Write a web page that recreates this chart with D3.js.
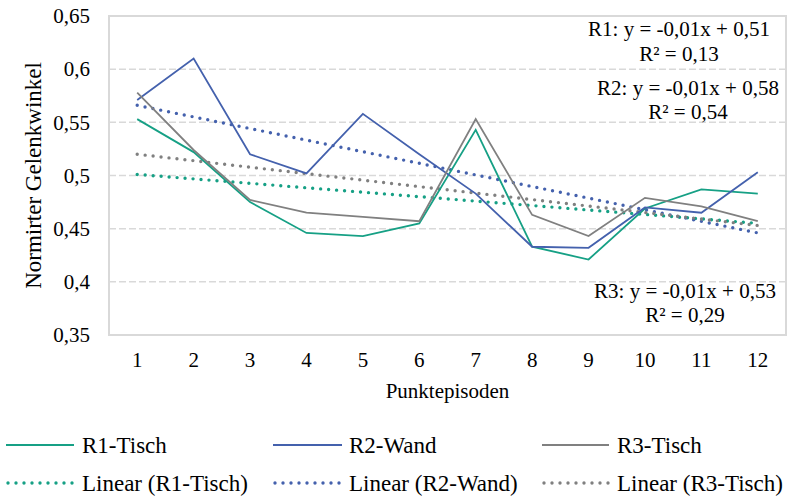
<!DOCTYPE html>
<html>
<head>
<meta charset="utf-8">
<script src="https://cdn.jsdelivr.net/npm/d3@7/dist/d3.min.js"></script>
<style>
  html, body { margin: 0; padding: 0; background: #fff; }
  svg { display: block; }
  text { font-family: "Liberation Serif", "LiberationSerif", "Tinos", "Times New Roman", Times, "DejaVu Serif", serif !important; fill: #000; }
</style>
</head>
<body>
<svg id="chart" width="795" height="497"></svg>
<script>
// ---- data ----
const categories = ["1","2","3","4","5","6","7","8","9","10","11","12"];
const seriesNames = ["R1-Tisch", "R2-Wand", "R3-Tisch"];
const r1Values = [0.553, 0.522, 0.475, 0.446, 0.443, 0.455, 0.543, 0.433, 0.421, 0.469, 0.487, 0.483];
const r2Values = [0.571, 0.610, 0.520, 0.502, 0.558, 0.520, 0.483, 0.433, 0.432, 0.470, 0.465, 0.503];
const r3Values = [0.578, 0.524, 0.477, 0.465, 0.461, 0.457, 0.553, 0.463, 0.443, 0.479, 0.471, 0.457];
// linear trend lines: value at first and last category
const trendStart = [0.501, 0.566, 0.520];
const trendEnd   = [0.455, 0.446, 0.453];
const yTicks = [0.35, 0.40, 0.45, 0.50, 0.55, 0.60, 0.65];
const yTickLabels = ["0,35", "0,4", "0,45", "0,5", "0,55", "0,6", "0,65"];
const trendLabels = [
  ["R1: y = -0,01x + 0,51", "R² = 0,13"],
  ["R2: y = -0,01x + 0,58", "R² = 0,54"],
  ["R3: y = -0,01x + 0,53", "R² = 0,29"]
];
const xTitle = "Punktepisoden";
const yTitle = "Normirter Gelenkwinkel";
const colors = ["#16a085", "#4461ad", "#808080"];

// ---- layout ----
const svg = d3.select("#chart");
const plot = { left: 109, right: 786, top: 16, bottom: 335 };

const x = d3.scaleBand().domain(categories).range([plot.left, plot.right]).padding(0);
const cx = c => x(c) + x.bandwidth() / 2;
const y = d3.scaleLinear().domain([0.35, 0.65]).range([plot.bottom, plot.top]);

svg.append("rect").attr("width", 795).attr("height", 497).attr("fill", "#fff");

// gridlines
svg.append("g").selectAll("line")
  .data(yTicks.filter(v => v > 0.35 && v < 0.65))
  .join("line")
  .attr("x1", plot.left).attr("x2", plot.right)
  .attr("y1", d => y(d)).attr("y2", d => y(d))
  .attr("stroke", "#d9d9d9").attr("stroke-width", 1.5)
  .attr("stroke-dasharray", "7,3");

// plot border
svg.append("rect")
  .attr("x", plot.left).attr("y", plot.top)
  .attr("width", plot.right - plot.left).attr("height", plot.bottom - plot.top)
  .attr("fill", "none").attr("stroke", "#d9d9d9").attr("stroke-width", 2);

// y axis
const yAxis = d3.axisLeft(y).tickValues(yTicks)
  .tickFormat((d, i) => yTickLabels[i]).tickSize(0).tickPadding(19);
const gy = svg.append("g").attr("transform", `translate(${plot.left},0)`).call(yAxis);
gy.select(".domain").remove();
gy.attr("font-family", null);
gy.selectAll("text").style("font-size", "21px").attr("fill", "#000");

// x axis
const xAxis = d3.axisBottom(x).tickSize(0).tickPadding(17);
const gx = svg.append("g").attr("transform", `translate(0,${plot.bottom})`).call(xAxis);
gx.select(".domain").remove();
gx.attr("font-family", null);
gx.selectAll("text").style("font-size", "21px").attr("fill", "#000");

// axis titles
svg.append("text").attr("x", (plot.left + plot.right) / 2).attr("y", 398)
  .attr("text-anchor", "middle").style("font-size", "21px").text(xTitle);
svg.append("text").attr("transform", `translate(41,${(plot.top + plot.bottom) / 2}) rotate(-90)`)
  .attr("text-anchor", "middle").style("font-size", "23px").text(yTitle);

// data lines
const allSeries = [r1Values, r2Values, r3Values];
const line = d3.line().x((d, i) => cx(categories[i])).y(d => y(d));
const trendLine = d3.line().x(d => cx(d[0])).y(d => y(d[1]));

// trends drawn first (below)
allSeries.forEach((vals, k) => {
  svg.append("path")
    .datum([[categories[0], trendStart[k]], [categories[categories.length - 1], trendEnd[k]]])
    .attr("d", trendLine)
    .attr("fill", "none").attr("stroke", colors[k]).attr("stroke-width", 3.4)
    .attr("stroke-linecap", "round").attr("stroke-dasharray", "0,8");
});
allSeries.forEach((vals, k) => {
  svg.append("path").datum(vals).attr("d", line)
    .attr("fill", "none").attr("stroke", colors[k]).attr("stroke-width", 1.8)
    .attr("stroke-linejoin", "miter");
});

// trend equation labels
const labelPos = [[679, 36, 61], [688, 95, 119], [685, 298, 322]];
trendLabels.forEach((lbl, k) => {
  const [lx, y1, y2] = labelPos[k];
  svg.append("text").attr("x", lx).attr("y", y1).attr("text-anchor", "middle")
    .style("font-size", "21px").text(lbl[0]);
  svg.append("text").attr("x", lx).attr("y", y2).attr("text-anchor", "middle")
    .style("font-size", "21px").text(lbl[1]);
});

// legend
const legCols = [[6, 74, 82], [273, 342, 349], [542, 609, 617]];
const legRows = [445, 483];
seriesNames.forEach((name, k) => {
  const [x1, x2, tx] = legCols[k];
  svg.append("line").attr("x1", x1).attr("x2", x2).attr("y1", legRows[0]).attr("y2", legRows[0])
    .attr("stroke", colors[k]).attr("stroke-width", 2);
  svg.append("text").attr("x", tx).attr("y", legRows[0] + 8).style("font-size", "23px").text(name);
  svg.append("line").attr("x1", x1 + 2).attr("x2", x2).attr("y1", legRows[1]).attr("y2", legRows[1])
    .attr("stroke", colors[k]).attr("stroke-width", 3.4)
    .attr("stroke-linecap", "round").attr("stroke-dasharray", "0,8");
  svg.append("text").attr("x", tx).attr("y", legRows[1] + 8).style("font-size", "23px")
    .text(`Linear (${name})`);
});
</script>
</body>
</html>
